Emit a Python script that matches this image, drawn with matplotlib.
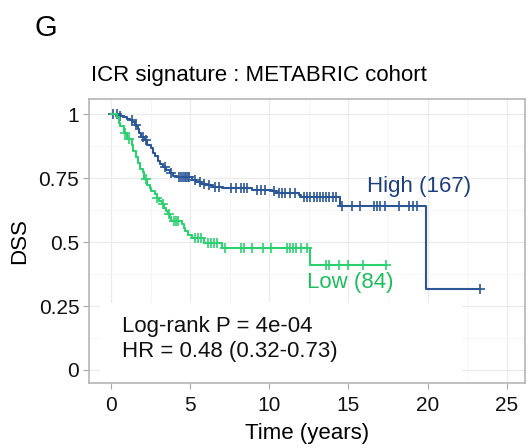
import numpy as np
import matplotlib.pyplot as plt
from matplotlib.patches import Rectangle

plt.rcParams['font.family'] = ['Liberation Sans', 'DejaVu Sans']

# Kaplan-Meier steps (time in years, survival after the drop)
high_t = [0.45, 0.75, 1.0, 1.2, 1.35, 1.5, 1.6, 1.7, 1.8, 1.9, 2.1, 2.3, 2.5, 2.65,
          2.8, 2.95, 3.1, 3.3, 3.5, 3.7, 3.9, 4.2, 5.1, 5.4, 5.7, 6.0, 6.4, 7.0,
          8.9, 10.15, 10.4, 11.85, 12.0, 14.45, 19.9]
high_s = [0.994, 0.988, 0.982, 0.976, 0.970, 0.958, 0.952, 0.940, 0.928, 0.910,
          0.898, 0.880, 0.866, 0.848, 0.836, 0.818, 0.806, 0.794, 0.782, 0.770,
          0.760, 0.754, 0.742, 0.735, 0.728, 0.722, 0.716, 0.710, 0.704, 0.698,
          0.692, 0.684, 0.676, 0.640, 0.316]
high_cens = [0.1, 0.35, 0.6, 1.3, 1.55, 2.0, 2.2, 3.4, 3.8, 4.3, 4.45, 4.55, 4.65,
             4.75, 4.85, 4.95, 5.3, 5.6, 5.9, 6.2, 6.6, 6.8, 7.6, 7.9, 8.2, 8.4,
             8.6, 9.2, 9.5, 9.7, 10.3, 10.6, 10.8, 11.0, 11.3, 11.6, 12.2, 12.4,
             12.6, 12.8, 13.0, 13.2, 13.4, 13.6, 13.8, 14.0, 14.2, 14.6, 15.2,
             15.7, 16.6, 16.8, 17.0, 17.3, 18.2, 18.8, 19.1, 19.3, 23.3]

low_t = [0.4, 0.5, 0.6, 0.8, 1.0, 1.3, 1.4, 1.55, 1.7, 1.85, 2.0, 2.1, 2.3, 2.45,
         2.55, 2.75, 2.9, 3.05, 3.2, 3.35, 3.5, 3.6, 3.7, 3.8, 4.5, 4.6, 4.7, 4.85,
         5.1, 5.85, 7.0, 12.6]
low_s = [0.988, 0.964, 0.952, 0.928, 0.904, 0.880, 0.856, 0.832, 0.808, 0.784,
         0.772, 0.748, 0.724, 0.712, 0.700, 0.687, 0.674, 0.661, 0.648, 0.635,
         0.622, 0.609, 0.596, 0.583, 0.570, 0.556, 0.542, 0.528, 0.514, 0.496,
         0.476, 0.412]
low_cens = [0.9, 1.15, 2.2, 2.9, 3.3, 3.65, 3.95, 4.1, 4.25, 5.3, 5.5, 5.7, 6.1,
            6.3, 6.5, 6.7, 7.2, 8.2, 8.4, 8.9, 9.6, 10.1, 11.1, 11.3, 11.5, 11.7,
            12.0, 12.4, 13.6, 13.8, 14.4, 15.0, 15.9, 17.4]

blue = '#2B5797'
blue_txt = '#1F3F7E'
green = '#2BD16F'
green_txt = '#1EBE5C'


def km_curve(ax, st, ss, cens, color):
    st = np.array(st)
    ss = np.array(ss)
    end = max(cens)
    xs = np.concatenate([[0], st, [end]])
    ys = np.concatenate([[1], ss, [ss[-1]]])
    ax.step(xs, ys, where='post', color=color, lw=1.5, zorder=3)
    cens = np.array(cens)
    idx = np.searchsorted(st, cens, side='right')
    cy = np.concatenate([[1], ss])[idx]
    ax.plot(cens, cy, ls='none', marker='+', ms=6.5, mew=1.2, color=color, zorder=3)


fig = plt.figure(figsize=(5.31, 4.48), dpi=100)
ax = fig.add_axes([0.1676, 0.145, 0.821, 0.634])

km_curve(ax, high_t, high_s, high_cens, blue)
km_curve(ax, low_t, low_s, low_cens, green)

ax.set_xlim(-1.39, 26.15)
ax.set_ylim(-0.051, 1.059)
ax.set_xticks([0, 5, 10, 15, 20, 25])
ax.set_xticks([2.5, 7.5, 12.5, 17.5, 22.5], minor=True)
ax.set_yticks([0, 0.25, 0.5, 0.75, 1])
ax.set_yticklabels(['0', '0.25', '0.5', '0.75', '1'])
ax.set_yticks([0.125, 0.375, 0.625, 0.875], minor=True)
ax.set_axisbelow(True)
ax.grid(which='major', color='#EBEBEB', lw=0.9)
ax.grid(which='minor', color='#F5F5F5', lw=0.6)
ax.tick_params(which='major', length=4, width=0.8, color='#A8A8A8',
               labelsize=15, labelcolor='#111111')
ax.tick_params(axis='x', pad=5)
ax.tick_params(axis='y', pad=3)
ax.tick_params(which='minor', length=0)
for sp in ax.spines.values():
    sp.set_color('#B5B5B5')
    sp.set_linewidth(1.2)

# white background behind the statistics text
ax.add_patch(Rectangle((-0.7, -0.06), 22.85, 0.322, facecolor='white',
                       edgecolor='none', zorder=1))

ax.text(19.46, 0.716, 'High (167)', color=blue_txt, fontsize=16,
        ha='center', va='center', zorder=4)
ax.text(15.1, 0.343, 'Low (84)', color=green_txt, fontsize=16,
        ha='center', va='center', zorder=4)
ax.text(0.71, 0.169, 'Log-rank P = 4e-04', fontsize=16, color='#111111',
        ha='left', va='center', zorder=4)
ax.text(0.71, 0.071, 'HR = 0.48 (0.32-0.73)', fontsize=16, color='#111111',
        ha='left', va='center', zorder=4)

ax.set_xlabel('Time (years)', fontsize=16, labelpad=6)
ax.set_ylabel('DSS', fontsize=16, labelpad=6)

fig.text(91 / 531, 1 - 75 / 448, 'ICR signature : METABRIC cohort',
         fontsize=16, ha='left', va='center')
fig.text(35 / 531, 1 - 28 / 448, 'G', fontsize=21, ha='left', va='center')

fig.savefig('out.png', dpi=100)
